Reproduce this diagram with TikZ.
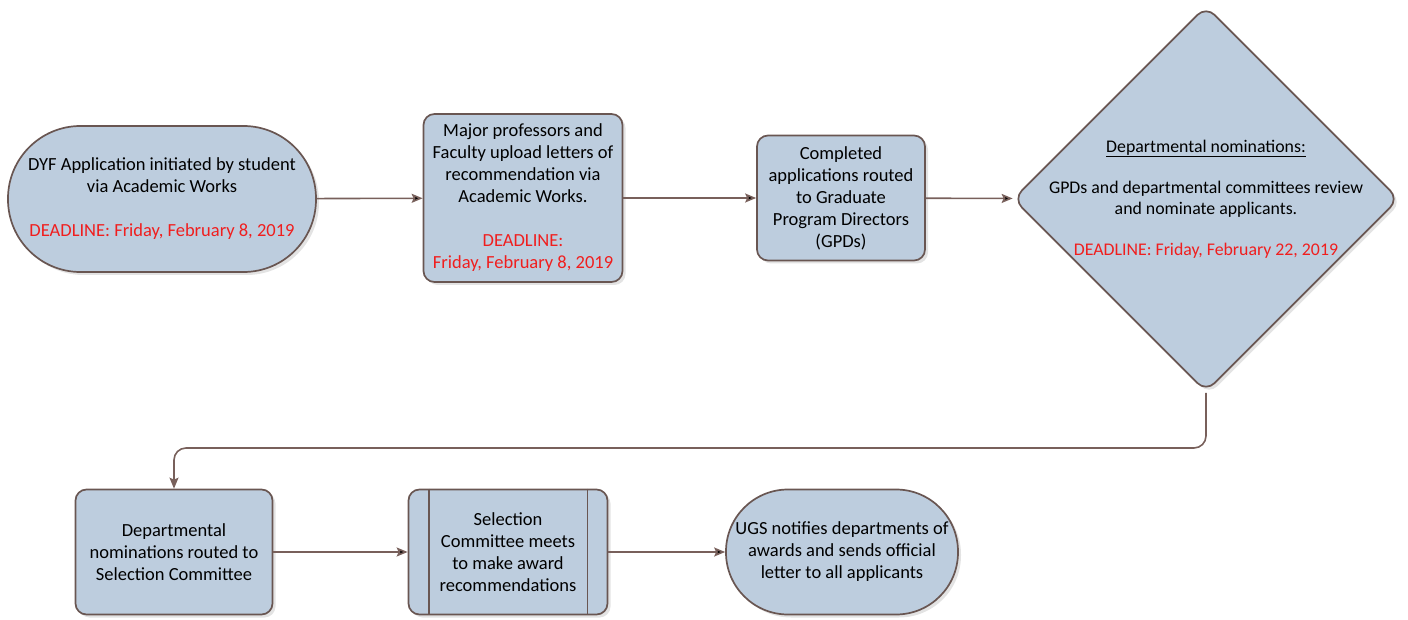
\documentclass[tikz,border=0pt]{standalone}
\usepackage{fontspec}
\setmainfont{Carlito}
\usetikzlibrary{shapes.geometric,arrows.meta,shadows}
\definecolor{boxblue}{RGB}{189,205,222}
\definecolor{edgebrown}{RGB}{105,86,82}
\definecolor{linebrown}{RGB}{120,96,91}
\definecolor{deadred}{RGB}{240,30,30}
\newcommand{\deadline}[1]{\textcolor{deadred}{#1}}
\begin{document}
\begin{tikzpicture}[x=1pt,y=-1pt,
  shape base/.style={draw=edgebrown,line width=1.7pt,fill=boxblue,inner sep=0pt,align=center,
    font=\fontsize{18.5}{22}\selectfont,
    drop shadow={opacity=0.22,shadow xshift=3pt,shadow yshift=-3pt}},
  stepbox/.style={shape base,rectangle,rounded corners=11pt},
  stadium/.style={shape base,rectangle,rounded corners=#1},
  decision/.style={shape base,diamond,rounded corners=12pt},
  label text/.style={inner sep=0pt,align=center,font=\fontsize{17.8}{21}\selectfont},
  flow/.style={draw=linebrown,line width=1.6pt,-{Stealth[length=11pt,width=9pt,inset=2pt]}}]
\useasboundingbox (0,0) rectangle (1408,620);
\node[stadium=72.5pt,minimum width=308pt,minimum height=146pt] (apply) at (162,199)
  {DYF Application initiated by student\\via Academic Works\\[22pt]\deadline{DEADLINE: Friday, February 8, 2019}};
\node[stepbox,minimum width=199pt,minimum height=168pt] (letters) at (523,198)
  {Major professors and\\Faculty upload letters of\\recommendation via\\Academic Works.\\[22pt]\deadline{DEADLINE:}\\\deadline{Friday, February 8, 2019}};
\node[stepbox,minimum width=168pt,minimum height=125pt] (routed) at (841,198)
  {Completed\\applications routed\\to Graduate\\Program Directors\\(GPDs)};
\node[decision,minimum width=386pt,minimum height=386pt] (nominate) at (1206,199) {};
\node[label text] (nomtext) at (nominate.center)
  {\underline{Departmental nominations:}\\[20pt]GPDs and departmental committees review\\and nominate applicants.\\[20pt]\deadline{DEADLINE: Friday, February 22, 2019}};
\node[stepbox,minimum width=197pt,minimum height=125pt] (tocommittee) at (174,552)
  {Departmental\\nominations routed to\\Selection Committee};
\node[stepbox,minimum width=199pt,minimum height=125pt] (meets) at (508,552)
  {Selection\\Committee meets\\to make award\\recommendations};
\draw[edgebrown,line width=1.7pt] ([xshift=21pt]meets.north west) -- ([xshift=21pt]meets.south west);
\draw[edgebrown,line width=1.7pt] ([xshift=-21pt]meets.north east) -- ([xshift=-21pt]meets.south east);
\node[stadium=62pt,minimum width=232pt,minimum height=125pt] (notify) at (842,552)
  {UGS notifies departments of\\awards and sends official\\letter to all applicants};
\coordinate (turn) at (1206,448);
\path[flow] (apply) edge (letters);
\path[flow] (letters) edge (routed);
\path[flow] (routed) edge (nominate);
\draw[flow,rounded corners=12pt] (nominate.south) -- (turn) -| (tocommittee.north);
\path[flow] (tocommittee) edge (meets);
\path[flow] (meets) edge (notify);
\end{tikzpicture}
\end{document}
